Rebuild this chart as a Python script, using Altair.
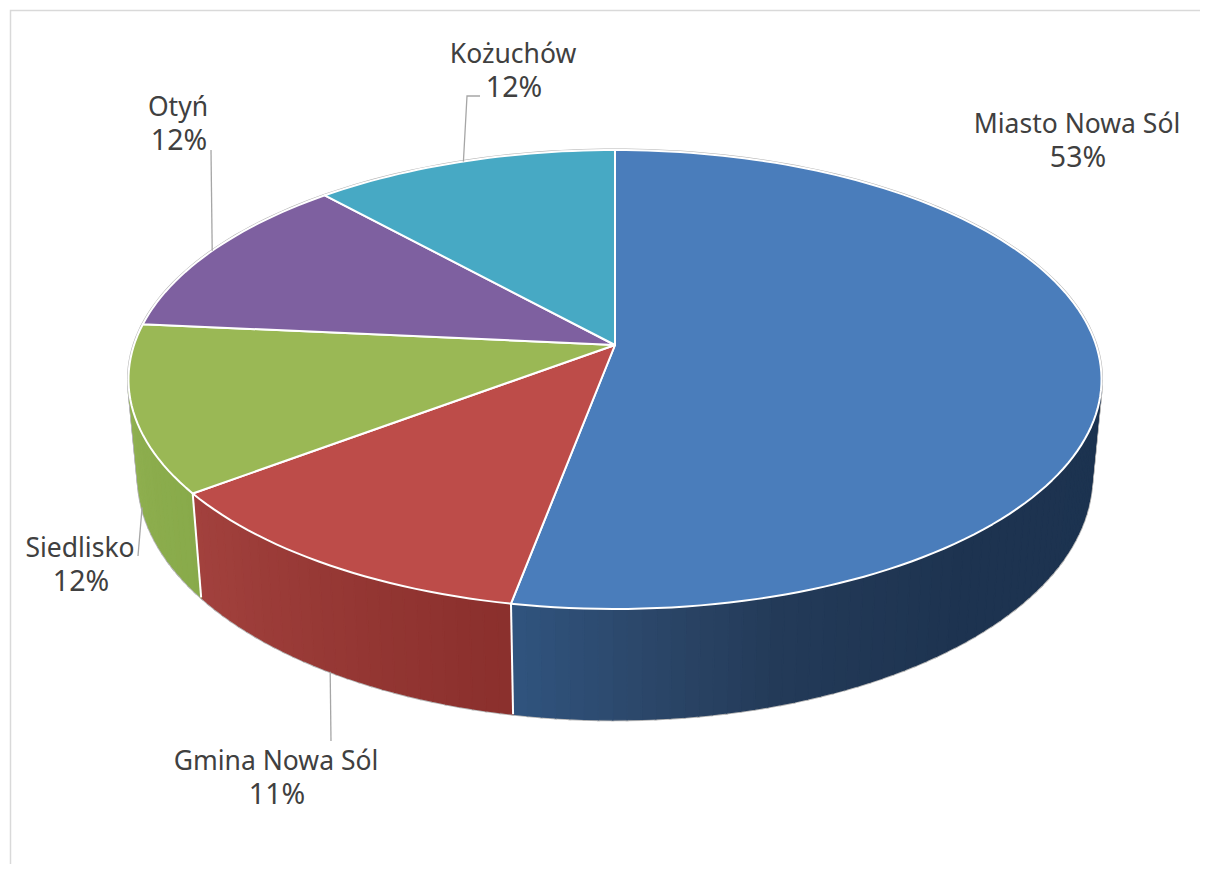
import math
import altair as alt

# Values
names = ["Miasto Nowa Sól", "Gmina Nowa Sól", "Siedlisko", "Otyń", "Kożuchów"]
shares = [52.95, 11.77, 11.78, 11.8, 11.7]
pct_labels = ["53%", "11%", "12%", "12%", "12%"]

# Styling
top_colors = ["#4a7dbb", "#bd4c49", "#9ab855", "#7e60a0", "#47a9c4"]
side_shades = {
    0: [(98, "#1c3350"), (140, "#1d3350"), (163, "#233a58"), (176, "#2b4668"), (191, "#30547f")],
    1: [(190, "#8a2f2c"), (232, "#a2413d")],
    2: [(232, "#88aa4a"), (262, "#90b050")],
}
label_anchor = [(1077, 133), (276, 770), (80, 557), (178, 116), (513, 63)]
LINE_GAP = 34
NAME_SIZE = 26.5
PCT_SIZE = 28.5
FONT = "Noto Sans"

# Perspective of the disc
CX, CY, AX, BY, K = 615.0, 345.0, 481.0, 224.3, 0.1503
BASE_X, BASE_Y, BASE_CY = 0.98, 1.06, 440.0


def top(th):
    t = math.radians(th)
    w = 1 + K * math.cos(t)
    return [CX + AX * math.sin(t) / w, CY - BY * math.cos(t) / w]


def base(th):
    t = math.radians(th)
    w = 1 + K * math.cos(t)
    return [CX + BASE_X * AX * math.sin(t) / w, BASE_CY - BASE_Y * BY * math.cos(t) / w]


def feature(kind, coords, **props):
    return {"type": "Feature", "geometry": {"type": kind, "coordinates": coords}, "properties": props}


def steps(a, b, d=1.5):
    n = max(2, int(abs(b - a) / d) + 1)
    return [a + (b - a) * i / n for i in range(n + 1)]


def shade(slice_i, th):
    stops = side_shades[slice_i]
    def rgb(h):
        return [int(h[i:i + 2], 16) for i in (1, 3, 5)]
    if th <= stops[0][0]:
        return stops[0][1]
    for (a, ca), (b, cb) in zip(stops, stops[1:]):
        if th <= b:
            f = (th - a) / (b - a)
            c = [round(x + (y - x) * f) for x, y in zip(rgb(ca), rgb(cb))]
            return "#%02x%02x%02x" % tuple(c)
    return stops[-1][1]


edges = [0.0]
for s in shares:
    edges.append(edges[-1] + s * 3.6)
mids = [(a + b) / 2 for a, b in zip(edges, edges[1:])]

wedges = []
for i, c in enumerate(top_colors):
    ring = [[CX, CY]] + [top(t) for t in steps(edges[i], edges[i + 1])] + [[CX, CY]]
    wedges.append(feature("Polygon", [ring], fill=c))

VIS_A, VIS_B = 98.6, 261.4
quads = []
for i in range(3):
    a, b = max(edges[i], VIS_A), min(edges[i + 1], VIS_B)
    ts = steps(a, b)
    for t0, t1 in zip(ts, ts[1:]):
        ring = [top(t0), top(t1), base(t1), base(t0), top(t0)]
        quads.append(feature("Polygon", [ring], fill=shade(i, (t0 + t1) / 2)))

back_rim = feature("LineString", [top(t) for t in steps(VIS_B, 360 + VIS_A)])
separators = [feature("LineString", [top(edges[i]), base(edges[i])]) for i in (1, 2)]

leaders = [
    feature("LineString", [top(mids[4]), [467, 96], [480, 96]]),
    feature("LineString", [top(mids[3]), [211, 150]]),
    feature("LineString", [base(mids[2]), [138, 556]]),
    feature("LineString", [base(mids[1]), [331, 741]]),
]
frame = [feature("LineString", [[10.5, 872], [10.5, 10.5], [1208, 10.5]])]

name_rows = [{"lon": x, "lat": y, "t": n} for n, (x, y) in zip(names, label_anchor)]
pct_rows = [{"lon": x + 1, "lat": y + LINE_GAP, "t": p} for p, (x, y) in zip(pct_labels, label_anchor)]

proj = dict(type="identity", scale=1, translate=[-8, -8])


def geo(features):
    return alt.Chart(alt.Data(values=features))


def text_layer(rows, size):
    return alt.Chart(alt.Data(values=rows)).mark_text(
        font=FONT, fontSize=size, color="#404040", align="center", baseline="alphabetic"
    ).encode(longitude="lon:Q", latitude="lat:Q", text="t:N").project(**proj)


fill_enc = alt.Fill("properties.fill:N", scale=None, legend=None)
stroke_enc = alt.Stroke("properties.fill:N", scale=None, legend=None)

layers = [
    geo(frame).mark_geoshape(filled=False, stroke="#d9d9d9", strokeWidth=1.5).project(**proj),
    geo(quads).mark_geoshape(stroke="#b4b4b4", strokeWidth=3, fill="#b4b4b4").project(**proj),
    geo([back_rim]).mark_geoshape(filled=False, stroke="#b4b4b4", strokeWidth=3).project(**proj),
    geo(quads).mark_geoshape(strokeWidth=1.2).encode(fill=fill_enc, stroke=stroke_enc).project(**proj),
    geo(separators).mark_geoshape(filled=False, stroke="white", strokeWidth=2).project(**proj),
    geo(wedges).mark_geoshape(stroke="white", strokeWidth=2, strokeJoin="round").encode(fill=fill_enc).project(**proj),
    geo(leaders).mark_geoshape(filled=False, stroke="#a6a6a6", strokeWidth=1.3).project(**proj),
    text_layer(name_rows, NAME_SIZE),
    text_layer(pct_rows, PCT_SIZE),
]

chart = (
    alt.layer(*layers)
    .properties(width=1192, height=856, padding=0, autosize=alt.AutoSizeParams(type="none"), background="white")
    .configure_view(stroke=None)
)

chart.save("out.html", embed_options={"renderer": "svg", "actions": False})
